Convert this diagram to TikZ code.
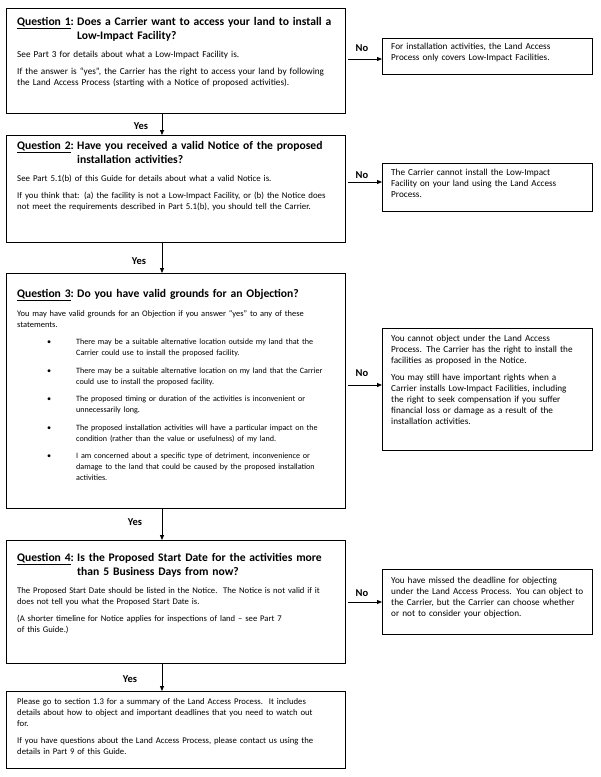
\documentclass[tikz,border=0pt]{standalone}
\usepackage{fontspec}
\setmainfont{Carlito}
\usetikzlibrary{arrows.meta,calc}
\newcommand\qlabel[1]{\makebox[60pt][l]{\underline{Question #1}:}}
\newcommand\pgap{\\[6.5pt]}
\newcommand\bul{\hspace*{30pt}\makebox[29pt][l]{\textbullet}}
\newcommand\bcont{\hspace*{59pt}}
\begin{document}
\begin{tikzpicture}[x=1pt,y=-1pt,
  box/.style={draw=black, line width=0.9pt, anchor=north west, inner sep=0pt, outer sep=0pt},
  ltxt/.style={anchor=base west, inner sep=0pt, align=left, text width=360pt,
    font=\fontsize{#1}{11}\selectfont},
  ltxt/.default=9.2,
  rtxt/.style={anchor=base west, inner sep=0pt, align=left, text width=220pt,
    font=\fontsize{9.2}{11}\selectfont},
  ttl/.style={anchor=base west, inner sep=0pt, align=left, text width=360pt,
    font=\bfseries\fontsize{11.6}{14.7}\selectfont},
  lbl/.style={inner sep=0pt, font=\bfseries\fontsize{10.5}{13}\selectfont},
  arr/.style={-{Triangle[length=5pt,width=4pt]}, line width=0.8pt}
]
\useasboundingbox (0,0) rectangle (601,777);
\fill[white] (0,0) rectangle (601,777);

% main boxes
\node[box, minimum width=339pt, minimum height=105pt] (b1) at (6,8) {};
\node[box, minimum width=339pt, minimum height=107pt] (b2) at (6,135) {};
\node[box, minimum width=339pt, minimum height=235pt] (b3) at (6,273) {};
\node[box, minimum width=339pt, minimum height=123pt] (b4) at (6,540) {};
\node[box, minimum width=339pt, minimum height=77pt] (b5) at (6,691) {};

% right boxes
\node[box, minimum width=210pt, minimum height=36pt] (r1) at (382,38) {};
\node[box, minimum width=210pt, minimum height=48pt] (r2) at (382,163) {};
\node[box, minimum width=210pt, minimum height=122pt] (r3) at (382,328) {};
\node[box, minimum width=210pt, minimum height=65pt] (r4) at (382,569) {};

% box 1 text
\node[ttl] (t1) at (17,25) {\qlabel{1}Does a Carrier want to access your land to install a\\\hspace*{60pt}Low-Impact Facility?};
\node[ltxt=9.2] (p1) at (17,57) {See Part 3 for details about what a Low-Impact Facility is.\pgap
If the answer is “yes”, the Carrier has the right to access your land by following\\
the Land Access Process (starting with a Notice of proposed activities).};

% box 2 text
\node[ttl] (t2) at (17,149) {\qlabel{2}Have you received a valid Notice of the proposed\\\hspace*{60pt}installation activities?};
\node[ltxt=8.85] (p2) at (17,181) {See Part 5.1(b) of this Guide for details about what a valid Notice is.\pgap
If you think that: (a) the facility is not a Low-Impact Facility, or (b) the Notice does\\
not meet the requirements described in Part 5.1(b), you should tell the Carrier.};

% box 3 text
\node[ttl] (t3) at (17,297) {\qlabel{3}Do you have valid grounds for an Objection?};
\node[ltxt=8.45] (p3) at (17,316) {You may have valid grounds for an Objection if you answer “yes” to any of these\\
statements.\pgap
\fontsize{8.1}{11}\selectfont
\bul There may be a suitable alternative location outside my land that the\\
\bcont Carrier could use to install the proposed facility.\pgap
\bul There may be a suitable alternative location on my land that the Carrier\\
\bcont could use to install the proposed facility.\pgap
\bul The proposed timing or duration of the activities is inconvenient or\\
\bcont unnecessarily long.\pgap
\bul The proposed installation activities will have a particular impact on the\\
\bcont condition (rather than the value or usefulness) of my land.\pgap
\bul I am concerned about a specific type of detriment, inconvenience or\\
\bcont damage to the land that could be caused by the proposed installation\\
\bcont activities.};

% box 4 text
\node[ttl] (t4) at (17,561) {\qlabel{4}Is the Proposed Start Date for the activities more\\\hspace*{60pt}than 5 Business Days from now?};
\node[ltxt=8.65] (p4) at (17,593) {The Proposed Start Date should be listed in the Notice.\ \ The Notice is not valid if it\\
does not tell you what the Proposed Start Date is.\pgap
(A shorter timeline for Notice applies for inspections of land – see Part 7\\
of this Guide.)};

% box 5 text
\node[ltxt=8.7] (p5) at (17,704) {Please go to section 1.3 for a summary of the Land Access Process.\ \ It includes\\
details about how to object and important deadlines that you need to watch out\\
for.\pgap
If you have questions about the Land Access Process, please contact us using the\\
details in Part 9 of this Guide.};

% right texts
\node[rtxt] (q1) at (391,49) {For installation activities, the Land Access\\
Process only covers Low-Impact Facilities.};
\node[rtxt] (q2) at (391,175) {The Carrier cannot install the Low-Impact\\
Facility on your land using the Land Access\\
Process.};
\node[rtxt] (q3) at (391,341) {You cannot object under the Land Access\\
Process. The Carrier has the right to install the\\
facilities as proposed in the Notice.\pgap
You may still have important rights when a\\
Carrier installs Low-Impact Facilities, including\\
the right to seek compensation if you suffer\\
financial loss or damage as a result of the\\
installation activities.};
\node[rtxt] (q4) at (391,583) {You have missed the deadline for objecting\\
under the Land Access Process. You can object to\\
the Carrier, but the Carrier can choose whether\\
or not to consider your objection.};

% vertical Yes connectors
\coordinate (ax) at (162,0);
\draw[arr] (b1.south -| ax) -- (b2.north -| ax);
\draw[arr] (b2.south -| ax) -- (b3.north -| ax);
\draw[arr] (b3.south -| ax) -- (b4.north -| ax);
\draw[arr] (b4.south -| ax) -- (b5.north -| ax);
\node[lbl] (y1) at (141,126) {Yes};
\node[lbl] (y2) at (139,261) {Yes};
\node[lbl] (y3) at (135,522) {Yes};
\node[lbl] (y4) at (130,679) {Yes};

% horizontal No connectors
\coordinate (n1) at (0,59);
\coordinate (n2) at (0,182);
\coordinate (n3) at (0,385);
\coordinate (n4) at (0,602);
\draw[arr, shorten <=3pt] (b1.east |- n1) -- (r1.west |- n1);
\draw[arr, shorten <=3pt] (b2.east |- n2) -- (r2.west |- n2);
\draw[arr, shorten <=3pt] (b3.east |- n3) -- (r3.west |- n3);
\draw[arr, shorten <=3pt] (b4.east |- n4) -- (r4.west |- n4);
\node[lbl] (no1) at (362,48) {No};
\node[lbl] (no2) at (362,175) {No};
\node[lbl] (no3) at (362,373) {No};
\node[lbl] (no4) at (362,593) {No};
\end{tikzpicture}
\end{document}
